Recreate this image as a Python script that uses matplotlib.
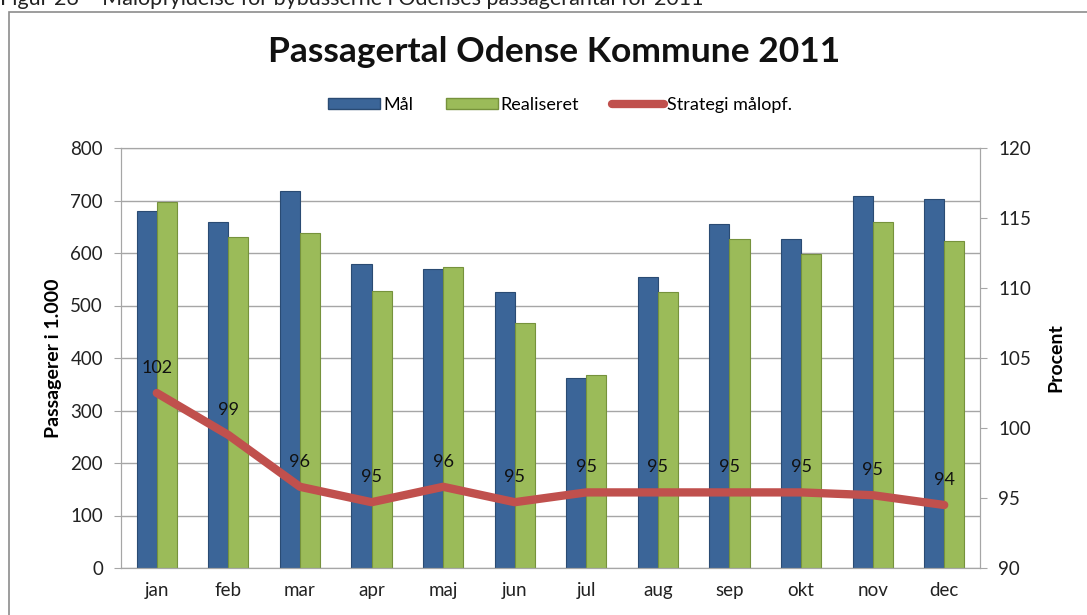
import numpy as np
import matplotlib.pyplot as plt
from matplotlib.patches import Rectangle
from matplotlib.lines import Line2D

plt.rcParams['font.family'] = ['Lato', 'DejaVu Sans']

months = ["jan", "feb", "mar", "apr", "maj", "jun", "jul", "aug", "sep", "okt", "nov", "dec"]
maal = [680, 660, 718, 579, 569, 525, 362, 554, 655, 626, 708, 703]
realiseret = [697, 631, 638, 528, 573, 467, 367, 525, 626, 598, 659, 623]
strategi = [102.5, 99.5, 95.8, 94.7, 95.8, 94.7, 95.4, 95.4, 95.4, 95.4, 95.2, 94.5]
strategi_labels = ["102", "99", "96", "95", "96", "95", "95", "95", "95", "95", "95", "94"]

blue = "#3B6598"
blue_edge = "#2A4B73"
green = "#9BBB59"
green_edge = "#76923C"
red = "#C0504D"
grid_col = "#A6A6A6"

fig = plt.figure(figsize=(10.87, 6.15), dpi=100)

# outer chart frame (only top/left visible in the crop)
fig.patches.append(Rectangle((9 / 1087, -0.1), 1.2, 1.1 - 12 / 615, transform=fig.transFigure,
                             fill=False, edgecolor="#8C8C8C", lw=1.2))
fig.text(0.0, 1 - 5 / 615, "Figur 26 \u2013 Målopfyldelse for bybusserne i Odenses passagerantal for 2011",
         fontsize=15.5, va="baseline", ha="left", color="#222222")

ax = fig.add_axes([121 / 1087, 1 - 568 / 615, (980 - 121) / 1087, (568 - 148) / 615])
x = np.arange(len(months))
w = 0.28
ax.bar(x - w / 2, maal, w, color=blue, edgecolor=blue_edge, lw=0.8, zorder=2)
ax.bar(x + w / 2, realiseret, w, color=green, edgecolor=green_edge, lw=0.8, zorder=2)

ax.set_xlim(-0.5, len(months) - 0.5)
ax.set_ylim(0, 800)
ax.set_yticks(range(0, 801, 100))
ax.set_xticks(x)
ax.set_xticklabels(months)
ax.grid(axis="y", color=grid_col, lw=1, zorder=0)
ax.set_axisbelow(True)
for s in ax.spines.values():
    s.set_color(grid_col)
ax.tick_params(axis="y", length=5, color=grid_col, labelsize=13.5, pad=8, labelcolor="#222222")
ax.tick_params(axis="x", length=0, labelsize=13.5, pad=10, labelcolor="#222222")
ax.set_ylabel("Passagerer i 1.000", fontsize=14, fontweight="bold", labelpad=6)

ax2 = ax.twinx()
ax2.set_ylim(90, 120)
ax2.set_yticks(range(90, 121, 5))
ax2.plot(x, strategi, color=red, lw=6, solid_capstyle="round", solid_joinstyle="round", zorder=3)
for xi, yi, lab in zip(x, strategi, strategi_labels):
    ax2.annotate(lab, (xi, yi), xytext=(0, 18), textcoords="offset points",
                 ha="center", va="center", fontsize=13, color="#111111")
for s in ax2.spines.values():
    s.set_color(grid_col)
ax2.tick_params(axis="y", length=5, color=grid_col, labelsize=13.5, pad=8, labelcolor="#222222")
ax2.set_ylabel("Procent", fontsize=14, fontweight="bold", labelpad=12)

fig.text(0.51, 1 - 52 / 615, "Passagertal Odense Kommune 2011", ha="center", va="center",
         fontsize=25.5, fontweight="bold", color="#111111")

handles = [Rectangle((0, 0), 1, 1, facecolor=blue, edgecolor=blue_edge),
           Rectangle((0, 0), 1, 1, facecolor=green, edgecolor=green_edge),
           Line2D([0], [0], color=red, lw=6, solid_capstyle="round")]
fig.legend(handles, ["Mål", "Realiseret", "Strategi målopf."], loc="center",
           bbox_to_anchor=(0.515, 1 - 105 / 615), ncol=3, frameon=False, fontsize=13,
           handlelength=2.9, handleheight=0.6, handletextpad=0.15, columnspacing=1.8)

fig.savefig("out.png", dpi=100)
